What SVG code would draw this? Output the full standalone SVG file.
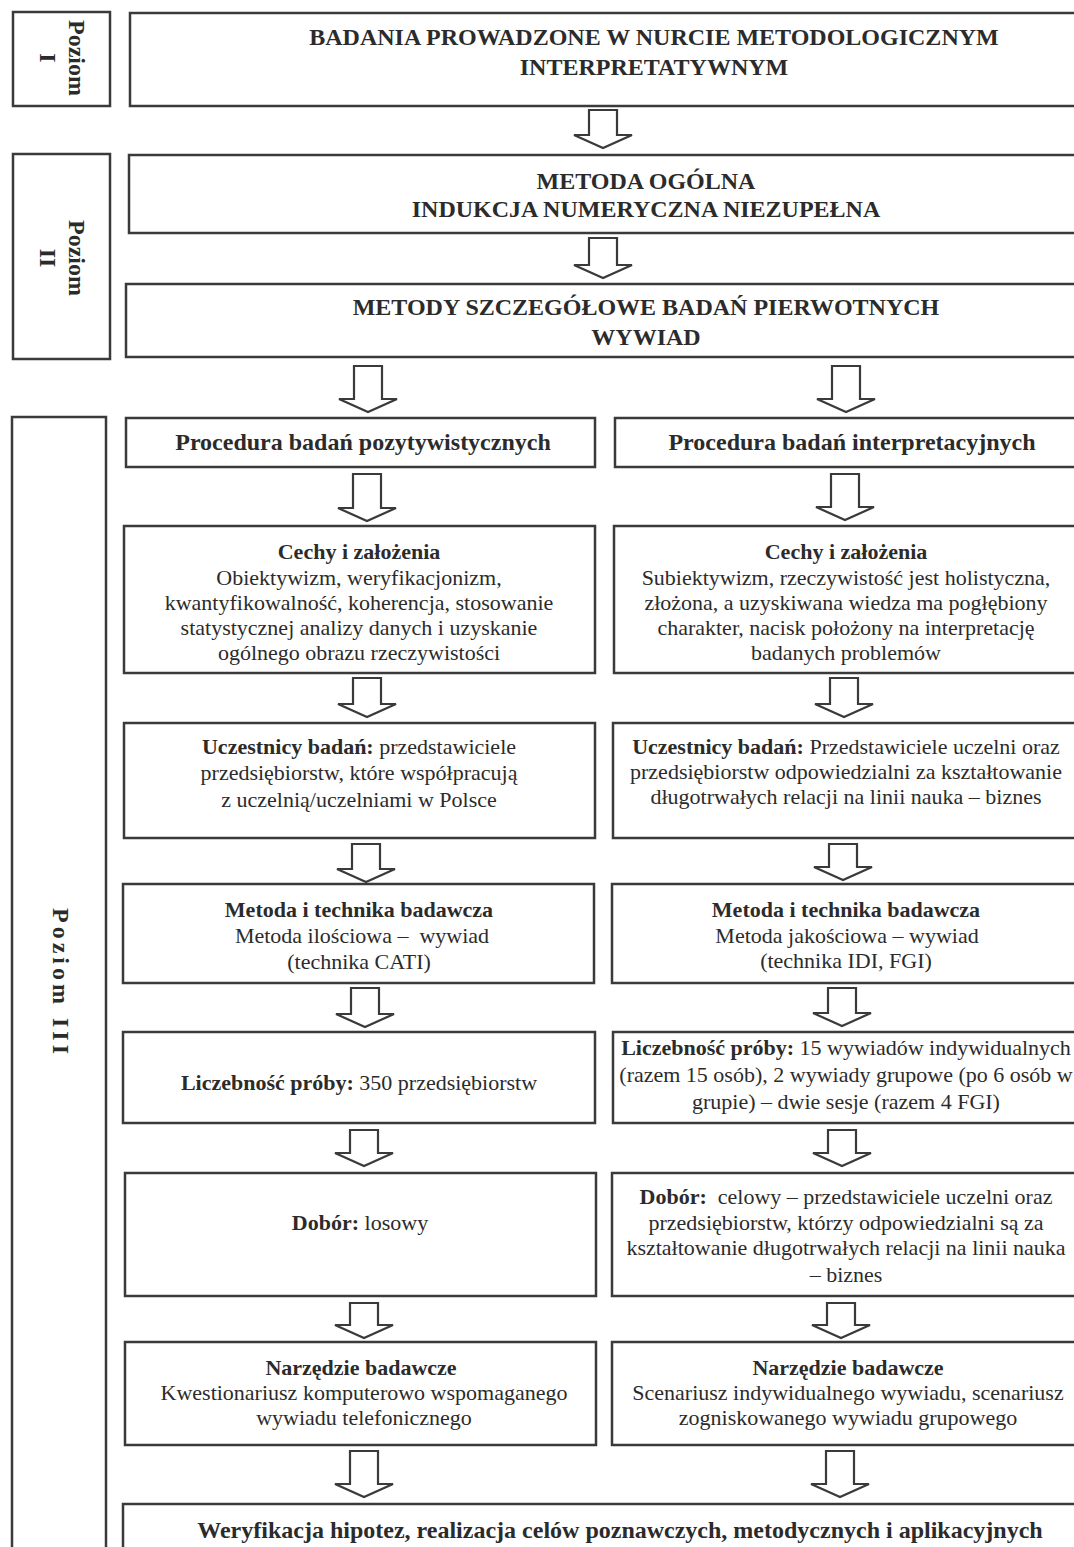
<svg xmlns="http://www.w3.org/2000/svg" width="1074" height="1547" viewBox="0 0 1074 1547">
<style>
.box{fill:#fff;stroke:#3a3a3a;stroke-width:2.5}
.arr{fill:#fff;stroke:#3a3a3a;stroke-width:2.2;stroke-linejoin:miter}
text{font-family:"Liberation Serif","Times New Roman",serif;fill:#2b2b2b}
.t{font-size:22px;text-anchor:middle}
.b{font-weight:bold}
.h{font-size:24px;font-weight:bold;text-anchor:middle}
.lv{font-size:24px;font-weight:bold;text-anchor:middle}
</style>
<rect width="1074" height="1547" fill="#fff"/>

<g id="poziom-1">
<rect class="box" x="13" y="12" width="97" height="94"/>
<text class="lv" transform="translate(69,58) rotate(90)">Poziom</text>
<text class="lv" transform="translate(40,58) rotate(90)">I</text>
</g>
<g id="badania">
<rect class="box" x="130" y="13" width="1000" height="93"/>
<text class="h" x="654" y="45" font-size="24.4">BADANIA PROWADZONE W NURCIE METODOLOGICZNYM</text>
<text class="h" x="654" y="75" font-size="24.4">INTERPRETATYWNYM</text>
</g>
<g id="poziom-2">
<rect class="box" x="13" y="154" width="97" height="205"/>
<text class="lv" transform="translate(69,258) rotate(90)">Poziom</text>
<text class="lv" transform="translate(40,258) rotate(90)">II</text>
</g>
<g id="metoda-ogolna">
<rect class="box" x="129" y="155" width="1000" height="78"/>
<text class="h" x="646" y="189">METODA OGÓLNA</text>
<text class="h" x="646" y="217">INDUKCJA NUMERYCZNA NIEZUPEŁNA</text>
</g>
<g id="metody-szczegolowe">
<rect class="box" x="126" y="284" width="1000" height="73"/>
<text class="h" x="646" y="315">METODY SZCZEGÓŁOWE BADAŃ PIERWOTNYCH</text>
<text class="h" x="646" y="345">WYWIAD</text>
</g>
<g id="poziom-3">
<rect class="box" x="12" y="417" width="94" height="1200"/>
<text class="lv" font-size="26" transform="translate(53,983) rotate(90)" letter-spacing="4">Poziom III</text>
</g>

<g id="procedura-poz">
<rect class="box" x="126" y="418" width="469" height="49"/>
<text class="h" x="363" y="450">Procedura badań pozytywistycznych</text>
</g>
<g id="procedura-int">
<rect class="box" x="615" y="418" width="470" height="49"/>
<text class="h" x="852" y="450">Procedura badań interpretacyjnych</text>
</g>

<g id="cechy-poz">
<rect class="box" x="124" y="526" width="471" height="147"/>
<text class="t b" x="359" y="559">Cechy i założenia</text>
<text class="t" x="359" y="585">Obiektywizm, weryfikacjonizm,</text>
<text class="t" x="359" y="610">kwantyfikowalność, koherencja, stosowanie</text>
<text class="t" x="359" y="635">statystycznej analizy danych i uzyskanie</text>
<text class="t" x="359" y="660">ogólnego obrazu rzeczywistości</text>
</g>
<g id="cechy-int">
<rect class="box" x="614" y="526" width="466" height="147"/>
<text class="t b" x="846" y="559">Cechy i założenia</text>
<text class="t" x="846" y="585">Subiektywizm, rzeczywistość jest holistyczna,</text>
<text class="t" x="846" y="610">złożona, a uzyskiwana wiedza ma pogłębiony</text>
<text class="t" x="846" y="635">charakter, nacisk położony na interpretację</text>
<text class="t" x="846" y="660">badanych problemów</text>
</g>

<g id="uczestnicy-poz">
<rect class="box" x="124" y="723" width="471" height="115"/>
<text class="t" x="359" y="754"><tspan class="b">Uczestnicy badań:</tspan> przedstawiciele</text>
<text class="t" x="359" y="780">przedsiębiorstw, które współpracują</text>
<text class="t" x="359" y="807">z uczelnią/uczelniami w Polsce</text>
</g>
<g id="uczestnicy-int">
<rect class="box" x="613" y="723" width="466" height="115"/>
<text class="t" x="846" y="754"><tspan class="b">Uczestnicy badań:</tspan> Przedstawiciele uczelni oraz</text>
<text class="t" x="846" y="779">przedsiębiorstw odpowiedzialni za kształtowanie</text>
<text class="t" x="846" y="804">długotrwałych relacji na linii nauka – biznes</text>
</g>

<g id="metoda-poz">
<rect class="box" x="123" y="884" width="471" height="99"/>
<text class="t b" x="359" y="917">Metoda i technika badawcza</text>
<text class="t" x="362" y="943">Metoda ilościowa –&#160; wywiad</text>
<text class="t" x="359" y="969">(technika CATI)</text>
</g>
<g id="metoda-int">
<rect class="box" x="612" y="884" width="467" height="99"/>
<text class="t b" x="846" y="917">Metoda i technika badawcza</text>
<text class="t" x="847" y="943">Metoda jakościowa – wywiad</text>
<text class="t" x="846" y="968">(technika IDI, FGI)</text>
</g>

<g id="licznosc-poz">
<rect class="box" x="123" y="1032" width="472" height="91"/>
<text class="t" x="359" y="1090"><tspan class="b">Liczebność próby:</tspan> 350 przedsiębiorstw</text>
</g>
<g id="licznosc-int">
<rect class="box" x="613" y="1032" width="466" height="91"/>
<text class="t" x="846" y="1055"><tspan class="b">Liczebność próby:</tspan> 15 wywiadów indywidualnych</text>
<text class="t" x="846" y="1082">(razem 15 osób), 2 wywiady grupowe (po 6 osób w</text>
<text class="t" x="846" y="1109">grupie) – dwie sesje (razem 4 FGI)</text>
</g>

<g id="dobor-poz">
<rect class="box" x="125" y="1173" width="471" height="123"/>
<text class="t" x="360" y="1230"><tspan class="b">Dobór:</tspan> losowy</text>
</g>
<g id="dobor-int">
<rect class="box" x="612" y="1173" width="467" height="123"/>
<text class="t" x="846" y="1204"><tspan class="b">Dobór:</tspan>&#160; celowy – przedstawiciele uczelni oraz</text>
<text class="t" x="846" y="1230">przedsiębiorstw, którzy odpowiedzialni są za</text>
<text class="t" x="846" y="1255">kształtowanie długotrwałych relacji na linii nauka</text>
<text class="t" x="846" y="1282">– biznes</text>
</g>

<g id="narzedzie-poz">
<rect class="box" x="125" y="1342" width="471" height="103"/>
<text class="t b" x="361" y="1375">Narzędzie badawcze</text>
<text class="t" x="364" y="1400">Kwestionariusz komputerowo wspomaganego</text>
<text class="t" x="364" y="1425">wywiadu telefonicznego</text>
</g>
<g id="narzedzie-int">
<rect class="box" x="612" y="1342" width="467" height="103"/>
<text class="t b" x="848" y="1375">Narzędzie badawcze</text>
<text class="t" x="848" y="1400">Scenariusz indywidualnego wywiadu, scenariusz</text>
<text class="t" x="848" y="1425">zogniskowanego wywiadu grupowego</text>
</g>

<g id="weryfikacja">
<rect class="box" x="123" y="1504" width="1000" height="100"/>
<text class="h" x="620" y="1538">Weryfikacja hipotez, realizacja celów poznawczych, metodycznych i aplikacyjnych</text>
</g>

<g id="connectors">
<path class="arr" d="M589,110 H617 V135 H632 L603,148 L574,135 H589 Z"/>
<path class="arr" d="M589,238 H617 V265 H632 L603,278 L574,265 H589 Z"/>
<path class="arr" d="M354,366 H382 V399 H397 L368,412 L339,399 H354 Z"/>
<path class="arr" d="M832,366 H860 V399 H875 L846,412 L817,399 H832 Z"/>
<path class="arr" d="M353,474 H381 V508 H396 L367,521 L338,508 H353 Z"/>
<path class="arr" d="M831,474 H859 V507 H874 L845,520 L816,507 H831 Z"/>
<path class="arr" d="M353,678 H381 V704 H396 L367,717 L338,704 H353 Z"/>
<path class="arr" d="M830,678 H858 V704 H873 L844,717 L815,704 H830 Z"/>
<path class="arr" d="M352,844 H380 V869 H395 L366,882 L337,869 H352 Z"/>
<path class="arr" d="M829,844 H857 V867 H872 L843,880 L814,867 H829 Z"/>
<path class="arr" d="M351,988 H379 V1014 H394 L365,1027 L336,1014 H351 Z"/>
<path class="arr" d="M828,988 H856 V1013 H871 L842,1026 L813,1013 H828 Z"/>
<path class="arr" d="M350,1130 H378 V1153 H393 L364,1166 L335,1153 H350 Z"/>
<path class="arr" d="M828,1130 H856 V1153 H871 L842,1166 L813,1153 H828 Z"/>
<path class="arr" d="M350,1303 H378 V1325 H393 L364,1338 L335,1325 H350 Z"/>
<path class="arr" d="M827,1303 H855 V1325 H870 L841,1338 L812,1325 H827 Z"/>
<path class="arr" d="M350,1451 H378 V1484 H393 L364,1497 L335,1484 H350 Z"/>
<path class="arr" d="M826,1451 H854 V1484 H869 L840,1497 L811,1484 H826 Z"/>
</g>
</svg>
